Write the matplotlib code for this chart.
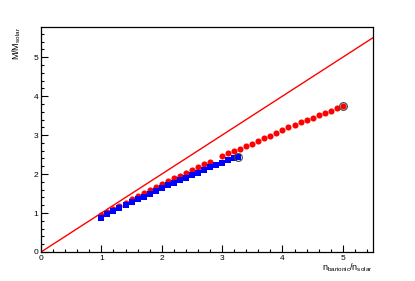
import matplotlib
matplotlib.use("Agg")
import matplotlib.pyplot as plt
from matplotlib.ticker import MultipleLocator

plt.rcParams['font.family'] = ['Liberation Sans', 'DejaVu Sans']
plt.rcParams['mathtext.fontset'] = 'custom'
plt.rcParams['mathtext.rm'] = 'Liberation Sans'
plt.rcParams['mathtext.it'] = 'Liberation Sans'

# Red circles series
red_x = [1.0, 1.1, 1.2, 1.3, 1.4, 1.5, 1.6, 1.7, 1.8, 1.9, 2.0, 2.1, 2.2, 2.3, 2.4, 2.5,
         2.6, 2.7, 2.8, 3.0, 3.1, 3.2, 3.3, 3.4, 3.5, 3.6, 3.7, 3.8, 3.9, 4.0, 4.1, 4.2,
         4.3, 4.4, 4.5, 4.6, 4.7, 4.8, 4.9, 5.0]
red_y = [0.95, 1.03, 1.11, 1.19, 1.27, 1.35, 1.43, 1.51, 1.59, 1.66, 1.74, 1.81, 1.89, 1.96, 2.04, 2.10,
         2.17, 2.25, 2.32, 2.47, 2.53, 2.59, 2.65, 2.71, 2.78, 2.85, 2.92, 2.99, 3.06, 3.13, 3.20, 3.27,
         3.33, 3.39, 3.45, 3.51, 3.57, 3.63, 3.69, 3.74]

# Blue squares series
blue_x = [1.0, 1.1, 1.2, 1.3, 1.4, 1.5, 1.6, 1.7, 1.8, 1.9, 2.0, 2.1, 2.2, 2.3, 2.4, 2.5,
          2.6, 2.7, 2.8, 2.9, 3.0, 3.1, 3.2, 3.27]
blue_y = [0.88, 0.97, 1.06, 1.14, 1.21, 1.28, 1.35, 1.42, 1.50, 1.57, 1.63, 1.71, 1.78, 1.84, 1.91, 1.98,
          2.04, 2.11, 2.17, 2.23, 2.29, 2.35, 2.40, 2.44]

# Reference line y = x
line_x = [0.0, 5.5]
line_y = [0.0, 5.5]

fig = plt.figure(figsize=(4.15, 2.81), dpi=100)
ax = fig.add_axes([41/415, 29/281, 332/415, 225/281])

ax.plot(line_x, line_y, color='#ff0000', lw=1.0, zorder=2)
ax.plot(red_x, red_y, 'o', color='#ff0000', ms=4.4, mew=0, zorder=3)
ax.plot(blue_x, blue_y, 's', color='#0000ff', ms=4.0, mew=0, zorder=4)
ax.plot([red_x[-1]], [red_y[-1]], 'o', mfc='none', mec='#444444', ms=5.6, mew=0.8, zorder=5)
ax.plot([blue_x[-1]], [blue_y[-1]], 'o', mfc='none', mec='#444444', ms=5.6, mew=0.8, zorder=5)

ax.set_xlim(0, 5.5)
ax.set_ylim(0, 5.775)
ax.xaxis.set_major_locator(MultipleLocator(1))
ax.xaxis.set_minor_locator(MultipleLocator(0.2))
ax.yaxis.set_major_locator(MultipleLocator(1))
ax.yaxis.set_minor_locator(MultipleLocator(0.2))
ax.tick_params(which='both', direction='in', top=False, right=False, labelsize=6, pad=2, width=0.8, color='black')
ax.tick_params(which='major', length=5)
ax.tick_params(which='minor', length=2.5)
for s in ax.spines.values():
    s.set_linewidth(0.9)

fig.text(17/415, 1 - 27/281, r'M/M$_{\mathrm{solar}}$', rotation=90, ha='center', va='top', fontsize=6.5)
fig.text(373/415, 1 - 268/281, r'n$_{\mathrm{barionic}}$/n$_{\mathrm{solar}}$', ha='right', va='center', fontsize=6.5)

fig.savefig('out.png', dpi=100)
